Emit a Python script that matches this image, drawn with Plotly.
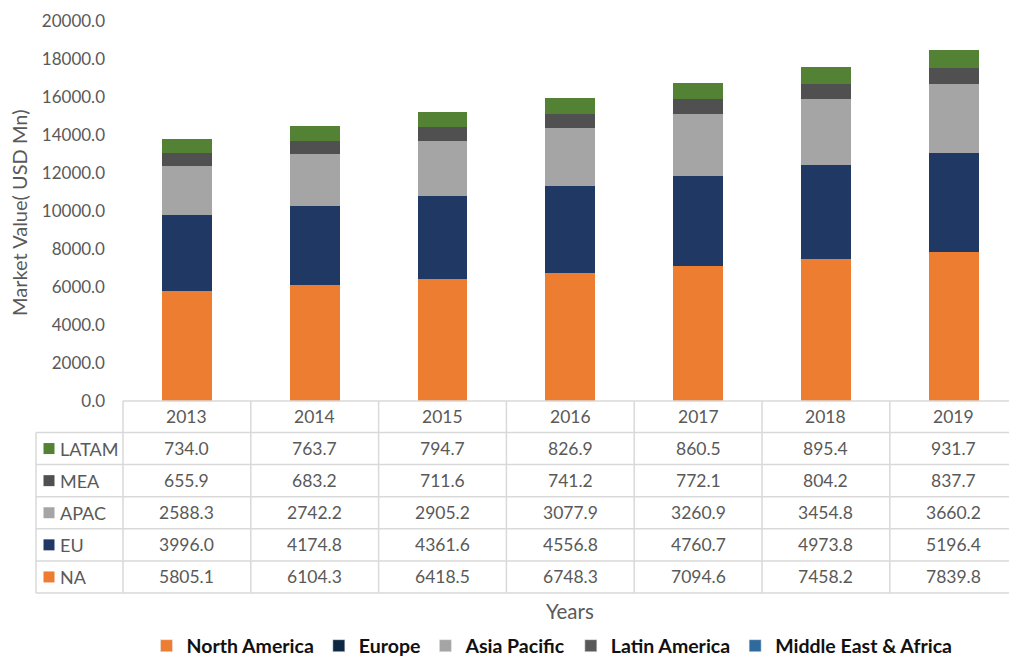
import plotly.graph_objects as go

# ---------------- data ----------------
years = ["2013", "2014", "2015", "2016", "2017", "2018", "2019"]
na = [5805.1, 6104.3, 6418.5, 6748.3, 7094.6, 7458.2, 7839.8]
eu = [3996.0, 4174.8, 4361.6, 4556.8, 4760.7, 4973.8, 5196.4]
apac = [2588.3, 2742.2, 2905.2, 3077.9, 3260.9, 3454.8, 3660.2]
mea = [655.9, 683.2, 711.6, 741.2, 772.1, 804.2, 837.7]
latam = [734.0, 763.7, 794.7, 826.9, 860.5, 895.4, 931.7]

series_codes = ["NA", "EU", "APAC", "MEA", "LATAM"]          # stacking order (bottom -> top)
series_values = [na, eu, apac, mea, latam]
series_colors = ["#ED7D31", "#203864", "#A5A5A5", "#505050", "#548235"]

legend_names = ["North America", "Europe", "Asia Pacific", "Latin America", "Middle East & Africa"]
legend_colors = ["#ED7D31", "#0E2841", "#A5A5A5", "#595959", "#2E6A9C"]

y_ticks = [0, 2000, 4000, 6000, 8000, 10000, 12000, 14000, 16000, 18000, 20000]

# ---------------- geometry (layout only) ----------------
W, H = 1009, 656
L, T, B = 123, 21, 255
PW = W - L
PH = H - T - B
COL = 127.8
X_END = -0.5 + PW / COL
FONT = "Lato"
GREY = "#595959"
LINE = "#D9D9D9"


def px(xpix):
    return (xpix - L) / PW


def py(ypix):
    return (T + PH - ypix) / PH


fig = go.Figure()

for code, vals, col in zip(series_codes, series_values, series_colors):
    fig.add_trace(go.Bar(x=years, y=vals, name=code, marker=dict(color=col, line=dict(width=0)),
                         showlegend=False))

# legend-only entries (as in the reference's legend)
for name, col in zip(legend_names, legend_colors):
    fig.add_trace(go.Bar(x=[None], y=[None], name=name, marker=dict(color=col), showlegend=True))

shapes = []
annotations = []

# table geometry
header_top = T + PH
header_bot = header_top + 31.5
row_h = 32.1
n_rows = len(series_codes)
table_bot = header_bot + row_h * n_rows
label_left = 36

# horizontal lines
shapes.append(dict(type="line", xref="paper", yref="paper", x0=0, x1=1,
                   y0=py(header_top), y1=py(header_top), line=dict(color=LINE, width=1.5)))
for k in range(n_rows + 1):
    yy = py(header_bot + row_h * k)
    shapes.append(dict(type="line", xref="paper", yref="paper", x0=px(label_left), x1=1,
                       y0=yy, y1=yy, line=dict(color=LINE, width=1.5)))
# vertical lines
shapes.append(dict(type="line", xref="paper", yref="paper", x0=px(label_left), x1=px(label_left),
                   y0=py(header_bot), y1=py(table_bot), line=dict(color=LINE, width=1.5)))
shapes.append(dict(type="line", xref="paper", yref="paper", x0=0, x1=0,
                   y0=py(header_top), y1=py(table_bot), line=dict(color=LINE, width=1.5)))
for i in range(1, len(years)):
    shapes.append(dict(type="line", xref="x", yref="paper", x0=i - 0.5, x1=i - 0.5,
                       y0=py(header_top), y1=py(table_bot), line=dict(color=LINE, width=1.5)))

# header (years)
for i, yr in enumerate(years):
    annotations.append(dict(x=i, xref="x", y=py((header_top + header_bot) / 2), yref="paper",
                            text=yr, showarrow=False, font=dict(family=FONT, size=17.5, color=GREY),
                            xanchor="center", yanchor="middle"))

# rows (top: last series)
for r, idx in enumerate(reversed(range(n_rows))):
    yc = header_bot + row_h * r + row_h / 2
    code = series_codes[idx]
    col = series_colors[idx]
    vals = series_values[idx]
    shapes.append(dict(type="rect", xref="paper", yref="paper", x0=px(43.5), x1=px(54.5),
                       y0=py(yc + 5.5), y1=py(yc - 5.5), fillcolor=col, line=dict(width=0)))
    annotations.append(dict(x=px(57.5), xref="paper", y=py(yc), yref="paper", text=code,
                            showarrow=False, font=dict(family=FONT, size=18, color=GREY),
                            xanchor="left", yanchor="middle"))
    for i, v in enumerate(vals):
        annotations.append(dict(x=i, xref="x", y=py(yc), yref="paper", text=f"{v:.1f}",
                                showarrow=False, font=dict(family=FONT, size=17.5, color=GREY),
                                xanchor="center", yanchor="middle"))

# axis titles
annotations.append(dict(x=px(570), xref="paper", y=py(611), yref="paper", text="Years",
                        showarrow=False, font=dict(family=FONT, size=20.5, color=GREY),
                        xanchor="center", yanchor="middle"))
annotations.append(dict(x=px(19), xref="paper", y=py(213), yref="paper", text="Market Value( USD Mn)",
                        showarrow=False, textangle=-90, font=dict(family=FONT, size=20, color=GREY),
                        xanchor="center", yanchor="middle"))

fig.update_layout(
    width=W, height=H,
    autosize=False,
    margin=dict(l=L, r=0, t=T, b=B, pad=0, autoexpand=False),
    barmode="stack",
    bargap=0.609,
    paper_bgcolor="white",
    plot_bgcolor="white",
    font=dict(family=FONT, color=GREY),
    showlegend=True,
    legend=dict(orientation="h", xref="container", yref="container",
                x=552 / W, xanchor="center", y=1 - 646 / H, yanchor="middle",
                font=dict(family=FONT, size=19.5, color="#111111", weight="bold"),
                traceorder="normal", itemclick=False, itemdoubleclick=False,
                itemwidth=30, tracegroupgap=0),
    xaxis=dict(range=[-0.5, X_END], showticklabels=False, showgrid=False, zeroline=False,
               showline=False, ticks="", fixedrange=True),
    yaxis=dict(range=[0, 20000], tickvals=y_ticks, tickformat=".1f", showgrid=False,
               zeroline=False, showline=False, ticks="", ticklabelstandoff=17,
               tickfont=dict(family=FONT, size=17, color=GREY), fixedrange=True),
    shapes=shapes,
    annotations=annotations,
)

fig.write_html("out.html", config={"displayModeBar": False})
